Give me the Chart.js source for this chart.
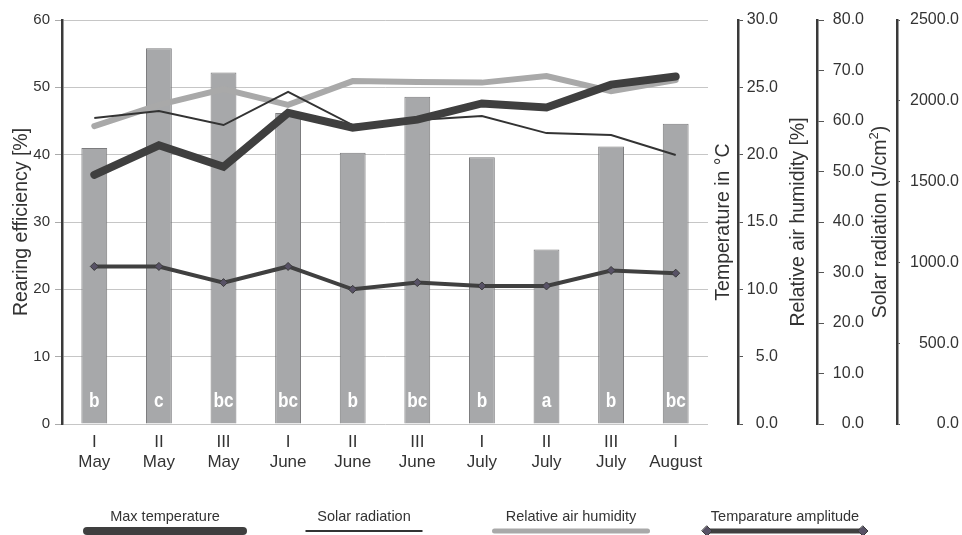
<!DOCTYPE html>
<html>
<head>
<meta charset="utf-8">
<script src="https://cdn.jsdelivr.net/npm/chart.js@4"></script>
<style>
  html, body { margin: 0; padding: 0; background: #fff; }
  #wrap { width: 962px; height: 535px; }
</style>
</head>
<body>
<div id="wrap"><canvas id="chart"></canvas></div>
<script>
const periods = [['I', 'May'], ['II', 'May'], ['III', 'May'], ['I', 'June'], ['II', 'June'],
                 ['III', 'June'], ['I', 'July'], ['II', 'July'], ['III', 'July'], ['I', 'August']];
const rearingEfficiency = [41.0, 55.8, 52.2, 46.2, 40.3, 48.6, 39.6, 25.9, 41.2, 44.6];
const groupLetters = ['b', 'c', 'bc', 'bc', 'b', 'bc', 'b', 'a', 'b', 'bc'];
const maxTemperature = [18.5, 20.7, 19.1, 23.1, 22.0, 22.6, 23.8, 23.5, 25.2, 25.8];
const solarRadiation = [1894, 1937, 1850, 2056, 1850, 1881, 1906, 1800, 1788, 1665];
const airHumidity = [59.0, 63.2, 66.3, 63.2, 67.9, 67.7, 67.6, 68.9, 65.9, 68.1];
const tempAmplitude = [11.7, 11.7, 10.5, 11.7, 10.0, 10.5, 10.25, 10.25, 11.4, 11.2];

const FONT = '"Liberation Sans", Arial, sans-serif';
Chart.defaults.font.family = FONT;
Chart.defaults.color = '#333';

const oneDecimal = v => v.toFixed(1);

// letters inside the bars (significance groups), squeezed to look condensed
const barLetters = {
    id: 'barLetters',
    afterDatasetsDraw(chart) {
        const {ctx} = chart;
        const meta = chart.getDatasetMeta(0);
        const y = chart.scales.y.getPixelForValue(0) - 23;
        ctx.save();
        ctx.fillStyle = '#fff';
        ctx.font = 'bold 21px ' + FONT;
        ctx.textAlign = 'center';
        ctx.textBaseline = 'middle';
        meta.data.forEach((bar, i) => {
            ctx.save();
            ctx.translate(bar.x, y);
            ctx.scale(0.82, 1);
            ctx.fillText(groupLetters[i], 0, 0);
            ctx.restore();
        });
        ctx.restore();
    }
};

// titles of the right axes, drawn left of each axis line, reading upwards
const rightTitles = {
    id: 'rightTitles',
    afterDraw(chart) {
        const {ctx, chartArea, scales} = chart;
        const midY = (chartArea.top + chartArea.bottom) / 2;
        ctx.save();
        ctx.fillStyle = '#333';
        ctx.textBaseline = 'middle';
        const big = '19.5px ' + FONT;
        const small = '13px ' + FONT;

        const plain = [['temp', 'Temperature in °C', 14], ['humidity', 'Relative air humidity [%]', 18]];
        plain.forEach(([id, text, dx]) => {
            ctx.save();
            ctx.translate(scales[id].left - dx, midY);
            ctx.rotate(-Math.PI / 2);
            ctx.font = big;
            ctx.textAlign = 'center';
            ctx.fillText(text, 0, 0);
            ctx.restore();
        });

        // solar radiation with superscript 2
        const parts = [['Solar radiation (J/cm', big, 0], ['2', small, -7], [')', big, 0]];
        let total = 0;
        parts.forEach(([t, f]) => { ctx.font = f; total += ctx.measureText(t).width; });
        ctx.save();
        ctx.translate(scales.solar.left - 16, midY);
        ctx.rotate(-Math.PI / 2);
        ctx.textAlign = 'left';
        let x = -total / 2;
        parts.forEach(([t, f, dy]) => {
            ctx.font = f;
            ctx.fillText(t, x, dy);
            x += ctx.measureText(t).width;
        });
        ctx.restore();
        ctx.restore();
    }
};

// legend: label above a sample of the line
const bottomLegend = {
    id: 'bottomLegend',
    afterDraw(chart) {
        const {ctx} = chart;
        const items = [
            {ds: 1, cx: 165, w: 156, lw: 8},
            {ds: 2, cx: 364, w: 117, lw: 2},
            {ds: 3, cx: 571, w: 153, lw: 5},
            {ds: 4, cx: 785, w: 156, lw: 5}
        ];
        ctx.save();
        items.forEach(it => {
            const d = chart.data.datasets[it.ds];
            ctx.fillStyle = '#333';
            ctx.font = '14.5px ' + FONT;
            ctx.textAlign = 'center';
            ctx.textBaseline = 'middle';
            ctx.fillText(d.label, it.cx, 517);

            ctx.strokeStyle = d.borderColor;
            ctx.lineWidth = it.lw;
            ctx.lineCap = it.lw > 2 ? 'round' : 'butt';
            ctx.beginPath();
            ctx.moveTo(it.cx - it.w / 2, 531);
            ctx.lineTo(it.cx + it.w / 2, 531);
            ctx.stroke();
            if (d.pointStyle === 'rectRot') {
                [it.cx - it.w / 2, it.cx + it.w / 2].forEach(px => {
                    ctx.beginPath();
                    ctx.moveTo(px, 526); ctx.lineTo(px + 5, 531);
                    ctx.lineTo(px, 536); ctx.lineTo(px - 5, 531);
                    ctx.closePath();
                    ctx.fillStyle = d.pointBackgroundColor;
                    ctx.fill();
                    ctx.lineWidth = 1;
                    ctx.strokeStyle = d.pointBorderColor;
                    ctx.stroke();
                });
            }
        });
        ctx.restore();
    }
};

// right axes: labels are right-aligned at the right edge of the axis box
const rightAxis = (min, max, step, weight, width, tickLen) => ({
    type: 'linear',
    position: 'right',
    weight: weight,
    min: min,
    max: max,
    afterFit: s => { s.width = width; },
    grid: {drawOnChartArea: false, tickLength: tickLen, tickColor: '#555', tickWidth: 1},
    border: {display: true, color: '#3a3a3a', width: 2.5},
    ticks: {stepSize: step, callback: oneDecimal, crossAlign: 'far', font: {size: 16}, color: '#333'}
});

// empty boxes that leave room for the axis titles
const spacer = (weight, width) => ({
    type: 'linear',
    position: 'right',
    weight: weight,
    afterFit: s => { s.width = width; },
    grid: {display: false},
    border: {display: false},
    ticks: {display: false}
});

new Chart(document.getElementById('chart'), {
    data: {
        labels: periods,
        datasets: [
            {
                type: 'bar',
                label: 'Rearing efficiency',
                data: rearingEfficiency,
                yAxisID: 'y',
                backgroundColor: '#a7a8aa',
                borderColor: '#7c7c7e',
                borderWidth: 1,
                categoryPercentage: 0.8,
                barPercentage: 0.5,
                order: 10
            },
            {
                type: 'line',
                label: 'Max temperature',
                data: maxTemperature,
                yAxisID: 'temp',
                borderColor: '#3f3f3f',
                borderWidth: 8,
                borderCapStyle: 'round',
                pointRadius: 0,
                tension: 0,
                order: 1
            },
            {
                type: 'line',
                label: 'Solar radiation',
                data: solarRadiation,
                yAxisID: 'solar',
                borderColor: '#333333',
                borderWidth: 2,
                pointRadius: 0,
                tension: 0,
                order: 2
            },
            {
                type: 'line',
                label: 'Relative air humidity',
                data: airHumidity,
                yAxisID: 'humidity',
                borderColor: '#a9a9a9',
                borderWidth: 6,
                borderCapStyle: 'round',
                pointRadius: 0,
                tension: 0,
                order: 3
            },
            {
                type: 'line',
                label: 'Temparature amplitude',
                data: tempAmplitude,
                yAxisID: 'temp',
                borderColor: '#404040',
                borderWidth: 4,
                pointStyle: 'rectRot',
                pointRadius: 4,
                pointBackgroundColor: '#585266',
                pointBorderColor: '#3a3a3a',
                pointBorderWidth: 1,
                tension: 0,
                order: 4
            }
        ]
    },
    options: {
        responsive: true,
        maintainAspectRatio: false,
        animation: false,
        layout: {padding: {left: 0, right: 3, top: 20, bottom: 0}},
        plugins: {
            legend: {display: false},
            tooltip: {enabled: false}
        },
        scales: {
            x: {
                type: 'category',
                offset: true,
                afterFit: s => { s.height = 111; },
                grid: {display: false},
                border: {display: false},
                ticks: {font: {size: 17}, color: '#333', padding: 0, maxRotation: 0}
            },
            y: {
                type: 'linear',
                position: 'left',
                min: 0,
                max: 60,
                afterFit: s => { s.width = 62; },
                grid: {color: '#c6c6c6', tickLength: 7, tickColor: '#aaa'},
                border: {display: true, color: '#3a3a3a', width: 2.5},
                ticks: {stepSize: 10, font: {size: 15}, color: '#333', padding: 5},
                title: {display: true, text: 'Rearing efficiency [%]', font: {size: 19.5},
                        color: '#333', padding: {top: 10, bottom: 0}}
            },
            gap1: spacer(0, 30),
            temp: rightAxis(0, 30, 5, 1, 40, 5),
            gap2: spacer(2, 39),
            humidity: rightAxis(0, 80, 10, 3, 47, 7),
            gap3: spacer(4, 33),
            solar: rightAxis(0, 2500, 500, 5, 62, 3)
        }
    },
    plugins: [barLetters, rightTitles, bottomLegend]
});
</script>
</body>
</html>
